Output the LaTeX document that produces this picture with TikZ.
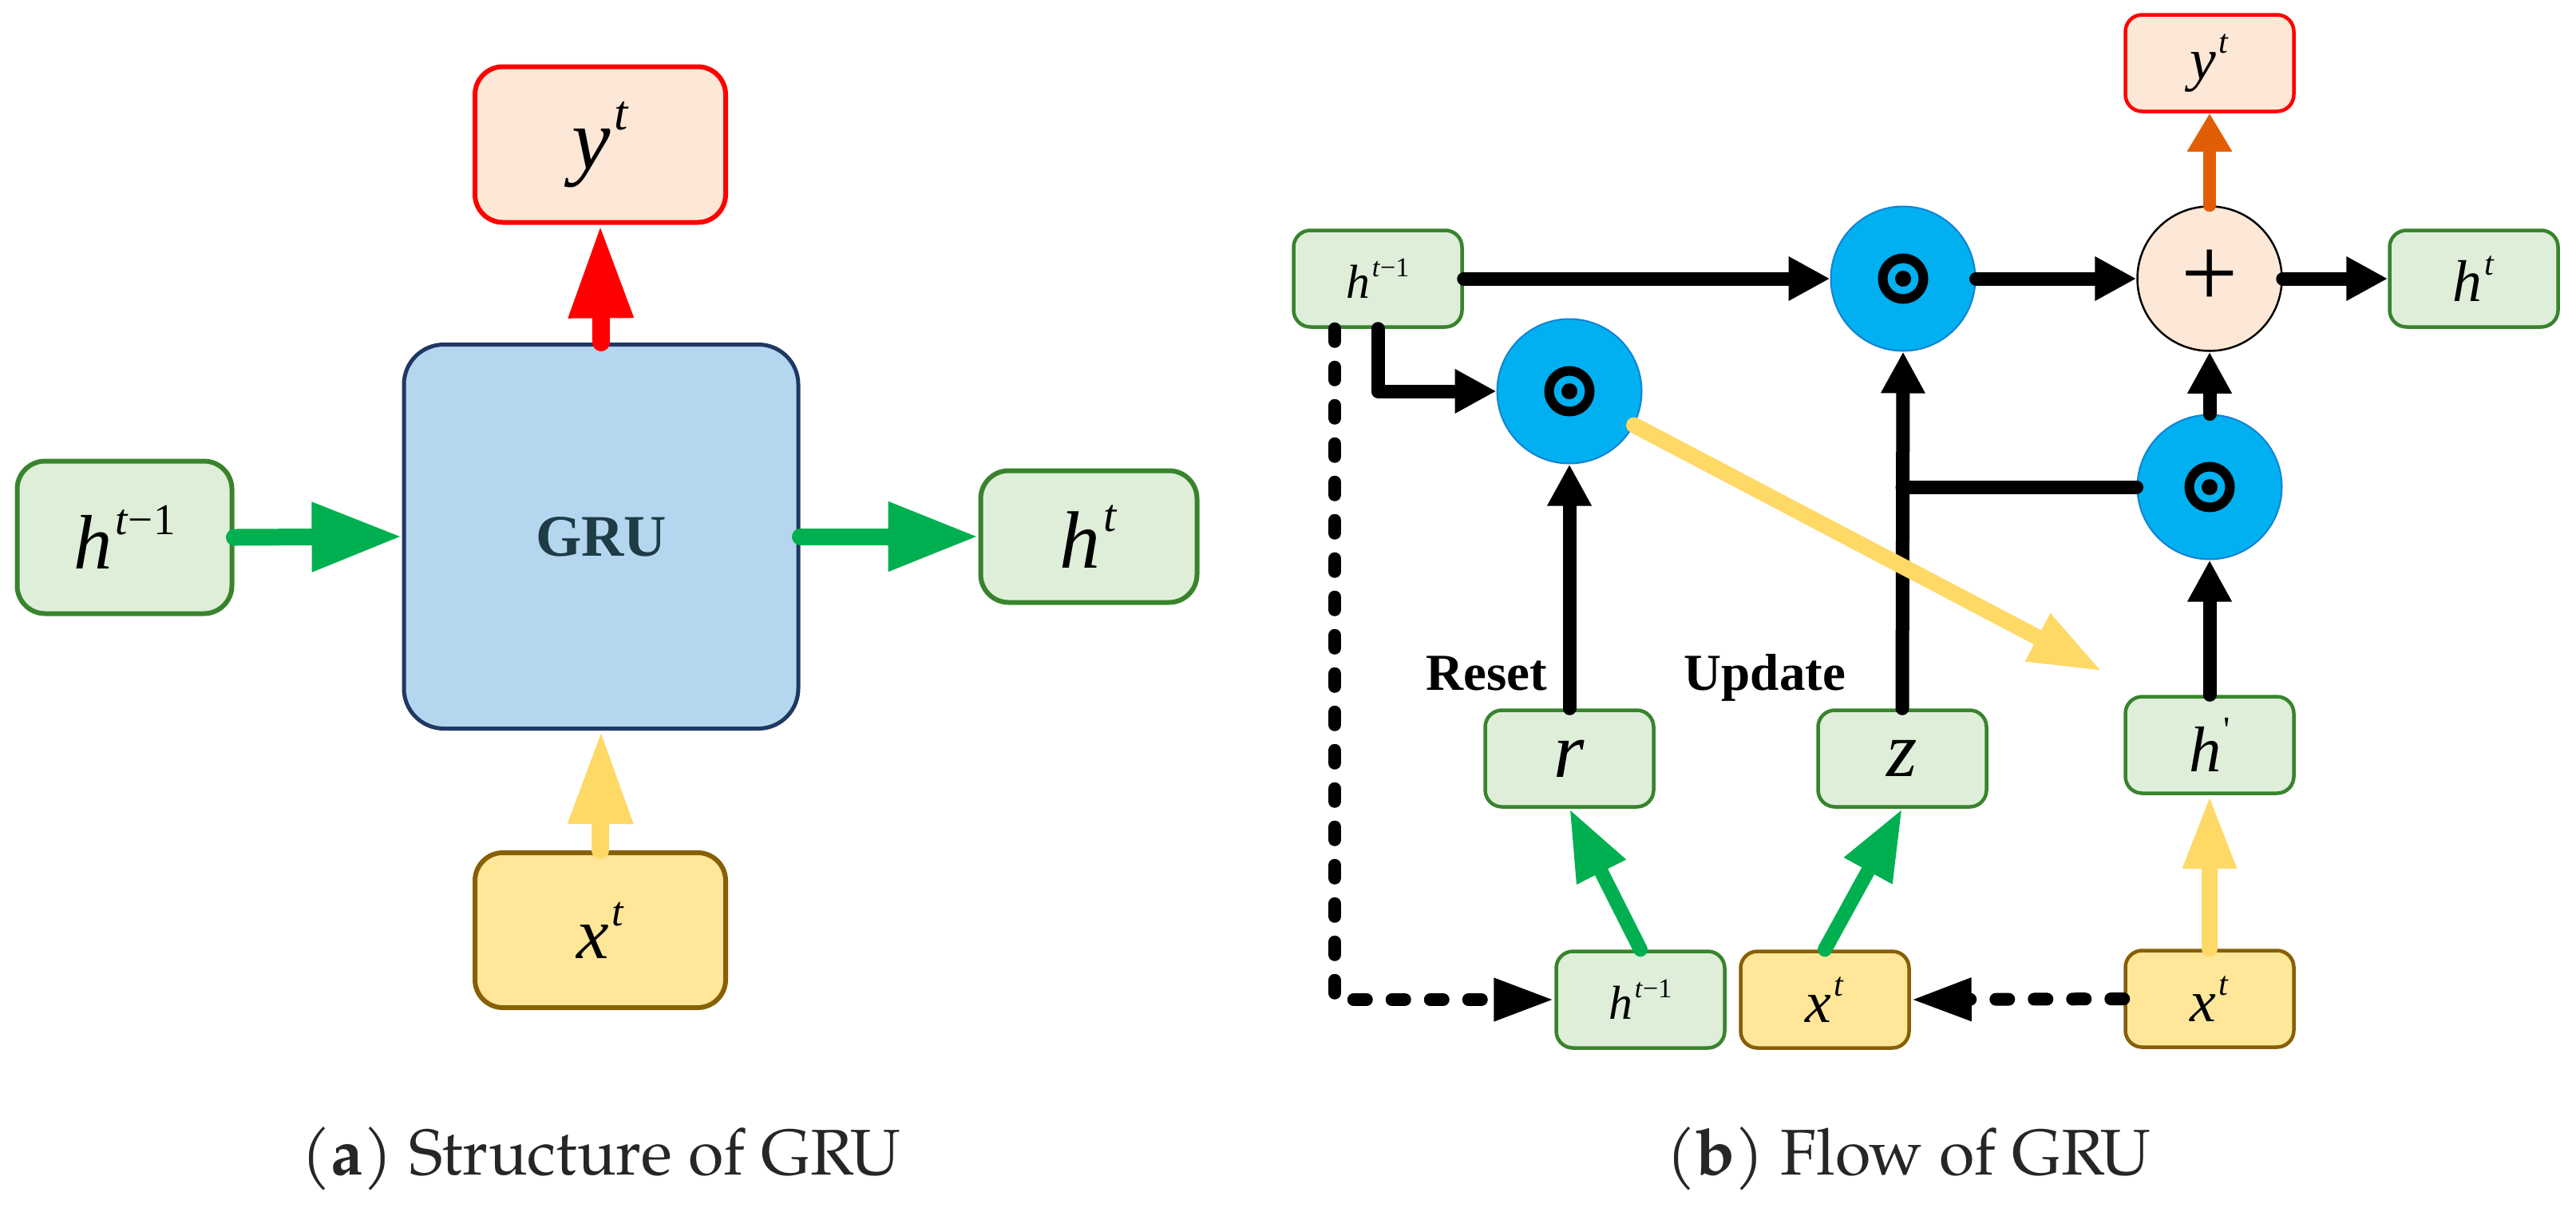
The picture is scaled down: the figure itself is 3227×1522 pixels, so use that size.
\documentclass[tikz,border=0pt]{standalone}
\usepackage{fontspec}
\setmainfont{Liberation Serif}
\newfontfamily\capfont{texgyrepagella-regular.otf}[BoldFont=texgyrepagella-bold.otf]
\usepackage{tikz}
\usetikzlibrary{arrows.meta}
\definecolor{hfill}{RGB}{222,238,217}
\definecolor{hline}{RGB}{56,132,44}
\definecolor{xfill}{RGB}{255,230,153}
\definecolor{xline}{RGB}{135,95,5}
\definecolor{yfill}{RGB}{253,231,214}
\definecolor{yline}{RGB}{255,0,0}
\definecolor{grufill}{RGB}{180,214,238}
\definecolor{gruline}{RGB}{31,56,100}
\definecolor{grutext}{RGB}{30,60,70}
\definecolor{agreen}{RGB}{0,176,80}
\definecolor{ayellow}{RGB}{255,217,102}
\definecolor{ared}{RGB}{255,0,0}
\definecolor{aorange}{RGB}{226,94,6}
\definecolor{cblue}{RGB}{0,176,240}
\definecolor{cbline}{RGB}{20,130,210}
\newcommand\fsz[1]{\fontsize{#1pt}{#1pt}\selectfont}
\newcommand\supr[1]{\kern0.04em\raisebox{0.45em}{\scalebox{0.57}{#1}}}

\begin{document}
\begin{tikzpicture}
		[x=0.1mm, y=-0.1mm, inner sep=0pt,
		hbox/.style		= {rectangle,rounded corners=2.1mm,draw=hline,fill=hfill,line width=0.45mm,minimum width=21.1mm,minimum height=12.1mm},
		xbox/.style		= {hbox,draw=xline,fill=xfill},
		ybox/.style		= {hbox,draw=yline,fill=yfill},
		bigbox/.style	= {rounded corners=3.5mm,line width=0.6mm},
		grubox/.style	= {rectangle,rounded corners=5mm,draw=gruline,fill=grufill,line width=0.5mm,minimum width=49.4mm,minimum height=48.1mm},
		mult/.style		= {circle,fill=cblue,draw=cbline,line width=0.2mm,minimum size=18.1mm,
			path picture={\draw[line width=1.2mm,black] (path picture bounding box.center) circle (2.55mm);
				\fill[black] (path picture bounding box.center) circle (1mm);}},
		plusnode/.style	= {circle,fill=yfill,draw=black,line width=0.25mm,minimum size=18.1mm},
		gate/.style		= {font=\fsz{18.5}\bfseries,anchor=base},
		capt/.style		= {font=\capfont\fsz{23},text=black!85,anchor=base},
		blackpath/.style	= {-{Triangle[length=5.2mm,width=5.2mm]}, line width=1.7mm, line cap=round, line join=round},
		blackline/.style	= {line width=1.7mm, line cap=round},
		dashpath/.style	= {-{Triangle[length=7.6mm,width=5mm]}, line width=1.6mm, line cap=round, line join=round, dash pattern=on 1.6mm off 3.2mm},
		greenpath/.style	= {-{Triangle[length=8.9mm,width=6.4mm]}, agreen, line width=1.8mm, line cap=round},
		yellowpath/.style	= {-{Triangle[length=9.2mm,width=6.2mm]}, ayellow, line width=2mm, line cap=round},
		orangepath/.style	= {-{Triangle[length=4.8mm,width=5.3mm]}, aorange, line width=1.6mm, line cap=round},
		greenbig/.style	= {-{Triangle[length=11.3mm,width=8.2mm]}, agreen, line width=2.1mm, line cap=round},
		redbig/.style		= {-{Triangle[length=11.7mm,width=7.6mm]}, ared, line width=2.2mm, line cap=round},
		yellowbig/.style	= {-{Triangle[length=11.7mm,width=7.6mm]}, ayellow, line width=2.2mm, line cap=round}]
		
		\useasboundingbox (0, 0) rectangle (3227, 1522);
		
		% (a) structure
		\node at (753, 672)		[grubox]	(gru)	{\fsz{21}\bfseries\color{grutext}GRU};
		\node at (752, 181)		[ybox, bigbox, minimum width=31.4mm, minimum height=19.5mm]	(yl)	{\fsz{31}\textit{y}\supr{\textit{t}}};
		\node at (156, 673)		[hbox, bigbox, minimum width=26.9mm, minimum height=19.1mm]	(hl)	{\fsz{27.5}\textit{h}\supr{\textit{t}−1}};
		\node at (1364, 672)	[hbox, bigbox, minimum width=27.1mm, minimum height=16.5mm]	(hr)	{\fsz{29}\textit{h}\supr{\textit{t}}};
		\node at (752, 1165)	[xbox, bigbox, minimum width=31.4mm, minimum height=19.4mm]	(xl)	{\fsz{26}\textit{x}\supr{\textit{t}}};
		
		\draw [greenbig] (hl.east) -- (gru.west);
		\draw [greenbig] (gru.east) -- (hr.west);
		\draw [redbig] (gru.north) -- (yl.south);
		\draw [yellowbig] (xl.north) -- (gru.south);
		
		\node at (753, 1471)	[capt]		(capa)	{(\textbf{a}) Structure of GRU};
		
		% (b) flow
		\node at (1726, 349)	[hbox]		(htop)	{\fsz{17}\textit{h}\supr{\textit{t}−1}};
		\node at (2384, 349)	[mult]		(c1)	{};
		\node at (1966, 490)	[mult]		(cr)	{};
		\node at (2768, 349)	[plusnode]	(plus)	{\fsz{36}+};
		\node at (2768, 79)		[ybox]		(yr)	{\fsz{21}\textit{y}\supr{\textit{t}}};
		\node at (3099, 349)	[hbox]		(hrt)	{\fsz{21}\textit{h}\supr{\textit{t}}};
		\node at (2768, 610)	[mult]		(c3)	{};
		\node at (2768, 933)	[hbox]		(hp)	{\fsz{23}\textit{h}\supr{\textquotesingle}};
		\node at (1966, 950)	[hbox]		(rb)	{\fsz{28}\textit{r}};
		\node at (2383, 950)	[hbox]		(zb)	{\fsz{28}\textit{z}};
		\node at (2055, 1252)	[hbox]		(hb)	{\fsz{17}\textit{h}\supr{\textit{t}−1}};
		\node at (2286, 1252)	[xbox]		(xm)	{\fsz{21}\textit{x}\supr{\textit{t}}};
		\node at (2768, 1251)	[xbox]		(xr)	{\fsz{21}\textit{x}\supr{\textit{t}}};
		\coordinate (hcand) at (2634, 841);
		
		\node at (1862, 864)	[gate]		(reset)		{Reset};
		\node at (2211, 864)	[gate]		(update)	{Update};
		
		\draw [blackpath] (htop.east) -- (c1.west);
		\draw [blackpath] (htop.south) |- (cr.west);
		\draw [dashpath] ([xshift=-5.4mm]htop.south) |- (hb.west);
		\draw [blackpath] (c1.east) -- (plus.west);
		\draw [blackpath] (plus.east) -- (hrt.west);
		\draw [orangepath] (plus.north) -- (yr.south);
		\draw [blackpath] (c3.north) -- (plus.south);
		\draw [blackpath] (hp.north) -- (c3.south);
		\draw [blackpath] (rb.north) -- (cr.south);
		\draw [blackpath] (zb.north) -- (c1.south);
		\draw [blackline] (c3.west) -- (c3.west -| zb.north);
		\draw [yellowpath] (cr) -- (hcand);
		\draw [yellowpath] (xr.north) -- (hp.south);
		\draw [greenpath] (hb.north) -- (rb.south);
		\draw [greenpath] (xm.north) -- (zb.south);
		\draw [dashpath] (xr.west) -- (xm.east);
		
		\node at (2391, 1471)	[capt]		(capb)	{(\textbf{b}) Flow of GRU};
		
		\end{tikzpicture}
\end{document}
